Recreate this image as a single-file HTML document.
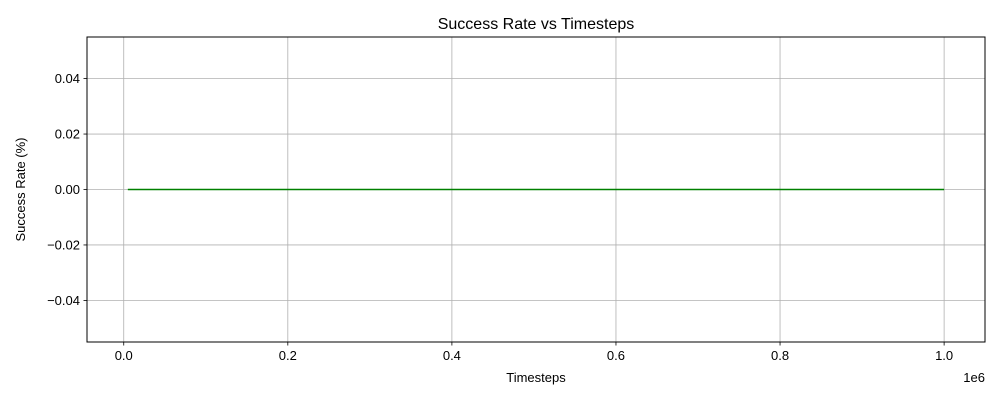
<!DOCTYPE html>
<html><head><meta charset="utf-8"><style>
html,body{margin:0;padding:0;background:#fff;}
svg text{font-family:"Liberation Sans","DejaVu Sans",sans-serif;}
</style></head><body>
<svg id="chart" width="1000" height="400" xmlns="http://www.w3.org/2000/svg">
<rect x="0" y="0" width="1000" height="400" fill="#fff"/>
<g id="grid"></g>
<g id="series"></g>
<rect x="87" y="37" width="898" height="305" fill="none" stroke="#000" stroke-width="1"/>
<g id="ticks"></g>
<text x="536" y="29" font-size="16" text-anchor="middle">Success Rate vs Timesteps</text>
<text x="536" y="382" font-size="13" text-anchor="middle">Timesteps</text>
<text x="985" y="382" font-size="13" text-anchor="end">1e6</text>
<text transform="translate(25,189.5) rotate(-90)" font-size="13" text-anchor="middle">Success Rate (%)</text>
</svg>
<script>
const timesteps = [5000,100000,200000,300000,400000,500000,600000,700000,800000,900000,1000000];
const successRates = [0,0,0,0,0,0,0,0,0,0,0];
const xTicks = [0,0.2e6,0.4e6,0.6e6,0.8e6,1.0e6];
const xTickLabels = ["0.0","0.2","0.4","0.6","0.8","1.0"];
const yTicks = [0.04,0.02,0,-0.02,-0.04];
const yTickLabels = ["0.04","0.02","0.00","\u22120.02","\u22120.04"];

const NS="http://www.w3.org/2000/svg";
const X0=87,X1=985,Y0=37,Y1=342;
const xMin=-0.04478e6,xMax=1.04983e6,yMin=-0.055,yMax=0.055;
function sx(v){return X0+(v-xMin)/(xMax-xMin)*(X1-X0);}
function sy(v){return Y1-(v-yMin)/(yMax-yMin)*(Y1-Y0);}
function mk(tag,attrs,parent){const e=document.createElementNS(NS,tag);for(const k in attrs)e.setAttribute(k,attrs[k]);parent.appendChild(e);return e;}
const grid=document.getElementById('grid'),ticks=document.getElementById('ticks'),series=document.getElementById('series');
xTicks.forEach((t,i)=>{
  const x=sx(t);
  const g=mk('line',{x1:x,x2:x,y1:Y0,y2:Y1,stroke:'#b0b0b0','stroke-width':0.8},grid);
  
  
  const tk=mk('line',{x1:x,x2:x,y1:Y1,y2:Y1+3.5,stroke:'#000','stroke-width':0.8},ticks);
  
  
  const tx=mk('text',{x:x,y:Y1+18,'font-size':13,'text-anchor':'middle'},ticks);
  tx.textContent=xTickLabels[i];
  
  
});
yTicks.forEach((t,i)=>{
  const y=sy(t);
  const g=mk('line',{x1:X0,x2:X1,y1:y,y2:y,stroke:'#b0b0b0','stroke-width':0.8},grid);
  
  
  const tk=mk('line',{x1:X0-3.5,x2:X0,y1:y,y2:y,stroke:'#000','stroke-width':0.8},ticks);
  
  
  const tx=mk('text',{x:X0-7,y:y+4.5,'font-size':13,'text-anchor':'end'},ticks);
  tx.textContent=yTickLabels[i];
  
  
});
const pts=timesteps.map((t,i)=>sx(t).toFixed(2)+','+sy(successRates[i]).toFixed(2)).join(' ');
const line=mk('polyline',{points:pts,fill:'none',stroke:'#008000','stroke-width':1.5},series);


</script>
</body></html>
